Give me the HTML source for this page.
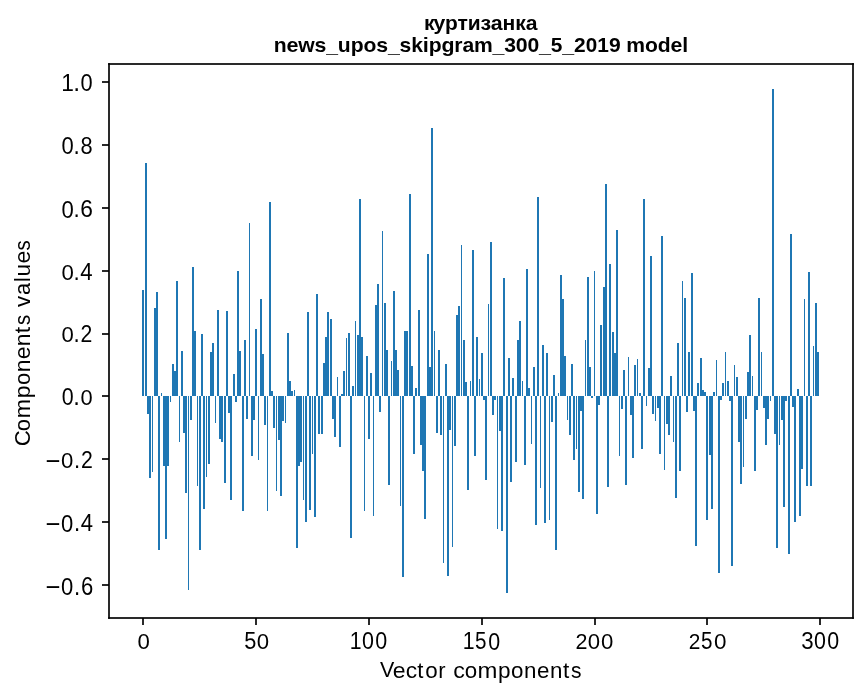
<!DOCTYPE html>
<html><head><meta charset="utf-8"><title>куртизанка — news_upos_skipgram_300_5_2019 model</title><style>
html,body{margin:0;padding:0;background:#fff;overflow:hidden;}
svg{display:block;}
text{font-family:"Liberation Sans",sans-serif;font-size:20.83px;fill:#000;}
</style></head><body>
<svg width="867" height="696" viewBox="0 0 867 696">
<rect x="0" y="0" width="867" height="696" fill="#fff"/>
<g fill="#1f77b4" shape-rendering="crispEdges"><rect x="142" y="290" width="2" height="106"/><rect x="145" y="163" width="2" height="233"/><rect x="147" y="396" width="2" height="18"/><rect x="149" y="396" width="2" height="82"/><rect x="152" y="396" width="1" height="76"/><rect x="154" y="308" width="2" height="88"/><rect x="156" y="292" width="2" height="104"/><rect x="158" y="396" width="2" height="154"/><rect x="161" y="393" width="1" height="3"/><rect x="163" y="396" width="2" height="70"/><rect x="165" y="396" width="2" height="143"/><rect x="167" y="396" width="2" height="70"/><rect x="170" y="396" width="1" height="6"/><rect x="172" y="364" width="2" height="32"/><rect x="174" y="371" width="2" height="25"/><rect x="176" y="281" width="2" height="115"/><rect x="179" y="396" width="1" height="46"/><rect x="181" y="351" width="2" height="45"/><rect x="183" y="396" width="2" height="37"/><rect x="185" y="396" width="2" height="97"/><rect x="188" y="396" width="1" height="194"/><rect x="190" y="396" width="2" height="24"/><rect x="192" y="267" width="2" height="129"/><rect x="194" y="331" width="2" height="65"/><rect x="197" y="396" width="1" height="90"/><rect x="199" y="396" width="2" height="154"/><rect x="201" y="334" width="2" height="62"/><rect x="203" y="396" width="2" height="113"/><rect x="206" y="396" width="1" height="81"/><rect x="208" y="396" width="2" height="68"/><rect x="210" y="352" width="2" height="44"/><rect x="212" y="343" width="2" height="53"/><rect x="215" y="396" width="1" height="27"/><rect x="217" y="310" width="2" height="86"/><rect x="219" y="396" width="2" height="43"/><rect x="221" y="396" width="2" height="46"/><rect x="224" y="396" width="2" height="87"/><rect x="226" y="311" width="2" height="85"/><rect x="228" y="396" width="2" height="17"/><rect x="230" y="396" width="2" height="104"/><rect x="233" y="374" width="2" height="22"/><rect x="235" y="396" width="2" height="6"/><rect x="237" y="271" width="2" height="125"/><rect x="239" y="351" width="2" height="45"/><rect x="242" y="396" width="2" height="115"/><rect x="244" y="340" width="2" height="56"/><rect x="246" y="396" width="2" height="23"/><rect x="249" y="223" width="1" height="173"/><rect x="251" y="396" width="2" height="60"/><rect x="253" y="396" width="2" height="24"/><rect x="255" y="329" width="2" height="67"/><rect x="258" y="396" width="1" height="64"/><rect x="260" y="299" width="2" height="97"/><rect x="262" y="354" width="2" height="42"/><rect x="264" y="396" width="2" height="29"/><rect x="267" y="396" width="1" height="115"/><rect x="269" y="202" width="2" height="194"/><rect x="271" y="391" width="2" height="5"/><rect x="273" y="396" width="2" height="32"/><rect x="276" y="396" width="1" height="95"/><rect x="278" y="396" width="2" height="44"/><rect x="280" y="396" width="2" height="100"/><rect x="282" y="396" width="2" height="25"/><rect x="285" y="396" width="1" height="27"/><rect x="287" y="333" width="2" height="63"/><rect x="289" y="381" width="2" height="15"/><rect x="291" y="391" width="2" height="5"/><rect x="294" y="390" width="1" height="6"/><rect x="296" y="396" width="2" height="152"/><rect x="298" y="396" width="2" height="70"/><rect x="300" y="396" width="2" height="66"/><rect x="303" y="396" width="1" height="104"/><rect x="305" y="396" width="2" height="126"/><rect x="307" y="312" width="2" height="84"/><rect x="309" y="396" width="2" height="114"/><rect x="312" y="396" width="1" height="58"/><rect x="314" y="396" width="2" height="121"/><rect x="316" y="294" width="2" height="102"/><rect x="318" y="396" width="2" height="38"/><rect x="321" y="396" width="2" height="38"/><rect x="323" y="363" width="2" height="33"/><rect x="325" y="337" width="2" height="59"/><rect x="327" y="312" width="2" height="84"/><rect x="330" y="319" width="2" height="77"/><rect x="332" y="396" width="2" height="23"/><rect x="334" y="396" width="2" height="41"/><rect x="337" y="377" width="1" height="19"/><rect x="339" y="396" width="2" height="51"/><rect x="341" y="394" width="2" height="2"/><rect x="343" y="371" width="2" height="25"/><rect x="346" y="338" width="1" height="58"/><rect x="348" y="333" width="2" height="63"/><rect x="350" y="396" width="2" height="142"/><rect x="352" y="386" width="2" height="10"/><rect x="355" y="321" width="1" height="75"/><rect x="357" y="335" width="2" height="61"/><rect x="359" y="199" width="2" height="197"/><rect x="361" y="337" width="2" height="59"/><rect x="364" y="396" width="1" height="115"/><rect x="366" y="356" width="2" height="40"/><rect x="368" y="396" width="2" height="43"/><rect x="370" y="373" width="2" height="23"/><rect x="373" y="396" width="1" height="120"/><rect x="375" y="305" width="2" height="91"/><rect x="377" y="284" width="2" height="112"/><rect x="379" y="396" width="2" height="16"/><rect x="382" y="231" width="1" height="165"/><rect x="384" y="303" width="2" height="93"/><rect x="386" y="350" width="2" height="46"/><rect x="388" y="396" width="2" height="89"/><rect x="391" y="361" width="1" height="35"/><rect x="393" y="291" width="2" height="105"/><rect x="395" y="350" width="2" height="46"/><rect x="397" y="370" width="2" height="26"/><rect x="400" y="396" width="1" height="110"/><rect x="402" y="396" width="2" height="181"/><rect x="404" y="331" width="4" height="65"/><rect x="409" y="194" width="2" height="202"/><rect x="411" y="366" width="2" height="30"/><rect x="413" y="396" width="2" height="58"/><rect x="415" y="388" width="2" height="8"/><rect x="418" y="310" width="2" height="86"/><rect x="420" y="396" width="2" height="49"/><rect x="422" y="396" width="2" height="75"/><rect x="424" y="396" width="2" height="123"/><rect x="427" y="254" width="2" height="142"/><rect x="429" y="367" width="2" height="29"/><rect x="431" y="128" width="2" height="268"/><rect x="434" y="331" width="1" height="65"/><rect x="436" y="396" width="2" height="37"/><rect x="438" y="350" width="2" height="46"/><rect x="440" y="396" width="2" height="39"/><rect x="443" y="396" width="1" height="167"/><rect x="445" y="364" width="2" height="32"/><rect x="447" y="396" width="2" height="180"/><rect x="449" y="396" width="2" height="34"/><rect x="452" y="396" width="1" height="151"/><rect x="454" y="396" width="2" height="50"/><rect x="456" y="315" width="2" height="81"/><rect x="458" y="306" width="2" height="90"/><rect x="461" y="245" width="1" height="151"/><rect x="463" y="340" width="2" height="56"/><rect x="465" y="382" width="2" height="14"/><rect x="467" y="396" width="2" height="94"/><rect x="470" y="381" width="1" height="15"/><rect x="472" y="250" width="2" height="146"/><rect x="474" y="396" width="2" height="60"/><rect x="476" y="337" width="2" height="59"/><rect x="479" y="379" width="1" height="17"/><rect x="481" y="353" width="2" height="43"/><rect x="483" y="396" width="2" height="4"/><rect x="485" y="396" width="2" height="84"/><rect x="488" y="304" width="1" height="92"/><rect x="490" y="242" width="2" height="154"/><rect x="492" y="396" width="2" height="19"/><rect x="494" y="396" width="2" height="4"/><rect x="497" y="396" width="1" height="133"/><rect x="499" y="396" width="2" height="35"/><rect x="501" y="396" width="2" height="135"/><rect x="503" y="278" width="2" height="118"/><rect x="506" y="396" width="2" height="197"/><rect x="508" y="358" width="2" height="38"/><rect x="510" y="396" width="2" height="86"/><rect x="512" y="378" width="2" height="18"/><rect x="515" y="396" width="2" height="66"/><rect x="517" y="340" width="2" height="56"/><rect x="519" y="321" width="2" height="75"/><rect x="522" y="381" width="1" height="15"/><rect x="524" y="396" width="2" height="69"/><rect x="526" y="269" width="2" height="127"/><rect x="528" y="388" width="2" height="8"/><rect x="531" y="396" width="1" height="48"/><rect x="533" y="367" width="2" height="29"/><rect x="535" y="396" width="2" height="129"/><rect x="537" y="197" width="2" height="199"/><rect x="540" y="396" width="1" height="92"/><rect x="542" y="345" width="2" height="51"/><rect x="544" y="396" width="2" height="127"/><rect x="546" y="353" width="2" height="43"/><rect x="549" y="396" width="1" height="124"/><rect x="551" y="396" width="2" height="26"/><rect x="553" y="375" width="2" height="21"/><rect x="555" y="396" width="2" height="154"/><rect x="558" y="393" width="1" height="3"/><rect x="560" y="275" width="2" height="121"/><rect x="562" y="299" width="2" height="97"/><rect x="564" y="356" width="2" height="40"/><rect x="567" y="396" width="1" height="24"/><rect x="569" y="396" width="2" height="39"/><rect x="571" y="364" width="2" height="32"/><rect x="573" y="396" width="2" height="64"/><rect x="576" y="396" width="1" height="53"/><rect x="578" y="396" width="2" height="96"/><rect x="580" y="396" width="2" height="15"/><rect x="582" y="396" width="2" height="103"/><rect x="585" y="340" width="1" height="56"/><rect x="587" y="277" width="2" height="119"/><rect x="589" y="367" width="2" height="29"/><rect x="591" y="396" width="2" height="2"/><rect x="594" y="271" width="1" height="125"/><rect x="596" y="396" width="2" height="118"/><rect x="598" y="396" width="2" height="9"/><rect x="600" y="325" width="2" height="71"/><rect x="603" y="287" width="2" height="109"/><rect x="605" y="184" width="2" height="212"/><rect x="607" y="396" width="2" height="91"/><rect x="609" y="264" width="2" height="132"/><rect x="612" y="332" width="2" height="64"/><rect x="614" y="353" width="2" height="43"/><rect x="616" y="230" width="2" height="166"/><rect x="619" y="396" width="1" height="60"/><rect x="621" y="396" width="2" height="13"/><rect x="623" y="370" width="2" height="26"/><rect x="625" y="396" width="2" height="89"/><rect x="628" y="357" width="1" height="39"/><rect x="630" y="396" width="2" height="19"/><rect x="632" y="396" width="2" height="62"/><rect x="634" y="365" width="2" height="31"/><rect x="637" y="359" width="1" height="37"/><rect x="639" y="393" width="2" height="3"/><rect x="641" y="396" width="2" height="53"/><rect x="643" y="199" width="2" height="197"/><rect x="646" y="396" width="1" height="10"/><rect x="648" y="368" width="2" height="28"/><rect x="650" y="256" width="2" height="140"/><rect x="652" y="396" width="2" height="18"/><rect x="655" y="396" width="1" height="25"/><rect x="657" y="396" width="2" height="12"/><rect x="659" y="396" width="2" height="58"/><rect x="661" y="236" width="2" height="160"/><rect x="664" y="396" width="1" height="74"/><rect x="666" y="396" width="2" height="28"/><rect x="668" y="396" width="2" height="39"/><rect x="670" y="376" width="2" height="20"/><rect x="673" y="396" width="1" height="46"/><rect x="675" y="396" width="2" height="102"/><rect x="677" y="343" width="2" height="53"/><rect x="679" y="396" width="2" height="75"/><rect x="682" y="281" width="1" height="115"/><rect x="684" y="298" width="2" height="98"/><rect x="686" y="396" width="2" height="16"/><rect x="688" y="352" width="2" height="44"/><rect x="691" y="273" width="2" height="123"/><rect x="693" y="396" width="2" height="15"/><rect x="695" y="396" width="2" height="150"/><rect x="697" y="383" width="2" height="13"/><rect x="700" y="358" width="2" height="38"/><rect x="702" y="390" width="2" height="6"/><rect x="704" y="392" width="2" height="4"/><rect x="706" y="396" width="2" height="124"/><rect x="709" y="396" width="2" height="59"/><rect x="711" y="396" width="2" height="113"/><rect x="713" y="392" width="2" height="4"/><rect x="716" y="360" width="1" height="36"/><rect x="718" y="396" width="2" height="177"/><rect x="720" y="396" width="2" height="4"/><rect x="722" y="383" width="2" height="13"/><rect x="725" y="352" width="1" height="44"/><rect x="727" y="381" width="2" height="15"/><rect x="729" y="396" width="2" height="5"/><rect x="731" y="396" width="2" height="170"/><rect x="734" y="365" width="1" height="31"/><rect x="736" y="377" width="2" height="19"/><rect x="738" y="396" width="2" height="46"/><rect x="740" y="396" width="2" height="88"/><rect x="743" y="396" width="1" height="71"/><rect x="745" y="396" width="2" height="23"/><rect x="747" y="372" width="2" height="24"/><rect x="749" y="335" width="2" height="61"/><rect x="752" y="376" width="1" height="20"/><rect x="754" y="396" width="2" height="75"/><rect x="756" y="396" width="2" height="14"/><rect x="758" y="298" width="2" height="98"/><rect x="761" y="352" width="1" height="44"/><rect x="763" y="396" width="2" height="12"/><rect x="765" y="396" width="2" height="49"/><rect x="767" y="396" width="2" height="23"/><rect x="770" y="396" width="1" height="5"/><rect x="772" y="89" width="2" height="307"/><rect x="774" y="396" width="2" height="38"/><rect x="776" y="396" width="2" height="152"/><rect x="779" y="396" width="1" height="49"/><rect x="781" y="396" width="2" height="24"/><rect x="783" y="396" width="2" height="111"/><rect x="785" y="396" width="2" height="5"/><rect x="788" y="396" width="2" height="158"/><rect x="790" y="234" width="2" height="162"/><rect x="792" y="396" width="2" height="11"/><rect x="794" y="396" width="2" height="126"/><rect x="797" y="389" width="2" height="7"/><rect x="799" y="396" width="2" height="120"/><rect x="801" y="396" width="2" height="73"/><rect x="804" y="299" width="1" height="97"/><rect x="806" y="396" width="2" height="90"/><rect x="808" y="272" width="2" height="124"/><rect x="810" y="396" width="2" height="90"/><rect x="813" y="346" width="1" height="50"/><rect x="815" y="303" width="2" height="93"/><rect x="817" y="352" width="2" height="44"/></g>
<g fill="#000" fill-opacity="0.8353" shape-rendering="crispEdges"><rect x="108" y="65" width="2" height="552"/><rect x="852" y="65" width="2" height="552"/><rect x="108" y="63" width="746" height="2"/><rect x="108" y="617" width="746" height="2"/><rect x="102" y="81" width="7" height="2"/><rect x="102" y="144" width="7" height="2"/><rect x="102" y="207" width="7" height="2"/><rect x="102" y="270" width="7" height="2"/><rect x="102" y="333" width="7" height="2"/><rect x="102" y="395" width="7" height="2"/><rect x="102" y="458" width="7" height="2"/><rect x="102" y="521" width="7" height="2"/><rect x="102" y="584" width="7" height="2"/><rect x="142" y="618" width="2" height="7"/><rect x="255" y="618" width="2" height="7"/><rect x="368" y="618" width="2" height="7"/><rect x="481" y="618" width="2" height="7"/><rect x="594" y="618" width="2" height="7"/><rect x="706" y="618" width="2" height="7"/><rect x="819" y="618" width="2" height="7"/></g>
<g shape-rendering="crispEdges"><rect x="108" y="63" width="1" height="1" fill="rgb(23,23,23)"/><rect x="109" y="63" width="1" height="1" fill="rgb(12,12,12)"/><rect x="108" y="64" width="1" height="1" fill="rgb(12,12,12)"/><rect x="109" y="64" width="1" height="1" fill="rgb(7,7,7)"/><rect x="852" y="63" width="1" height="1" fill="rgb(12,12,12)"/><rect x="853" y="63" width="1" height="1" fill="rgb(23,23,23)"/><rect x="852" y="64" width="1" height="1" fill="rgb(7,7,7)"/><rect x="853" y="64" width="1" height="1" fill="rgb(12,12,12)"/><rect x="108" y="617" width="1" height="1" fill="rgb(12,12,12)"/><rect x="109" y="617" width="1" height="1" fill="rgb(7,7,7)"/><rect x="108" y="618" width="1" height="1" fill="rgb(23,23,23)"/><rect x="109" y="618" width="1" height="1" fill="rgb(12,12,12)"/><rect x="852" y="617" width="1" height="1" fill="rgb(7,7,7)"/><rect x="853" y="617" width="1" height="1" fill="rgb(12,12,12)"/><rect x="852" y="618" width="1" height="1" fill="rgb(12,12,12)"/><rect x="853" y="618" width="1" height="1" fill="rgb(23,23,23)"/></g>
<g style="opacity:0.999">
<rect x="46.75" y="460.15" width="12.45" height="1.85"/><rect x="46.75" y="523.15" width="12.45" height="1.85"/><rect x="46.75" y="586.15" width="12.45" height="1.85"/>
<text transform="translate(67.77,90.70) scale(1.0914,1.1770)" x="-6.08">1</text><text transform="translate(76.76,90.70) scale(1.1787,1.2237)" x="-2.89">.</text><text transform="translate(86.46,90.70) scale(1.0477,1.1887)" x="-5.79">0</text>
<text transform="translate(67.50,153.96) scale(1.0567,1.1776)" x="-5.79">0</text><text transform="translate(76.68,153.96) scale(1.0778,1.2122)" x="-2.89">.</text><text transform="translate(86.62,153.96) scale(1.0461,1.1199)" x="-5.79">8</text>
<text transform="translate(67.75,217.64) scale(1.0618,1.1739)" x="-5.79">0</text><text transform="translate(76.68,217.14) scale(1.0724,1.1288)" x="-2.89">.</text><text transform="translate(86.70,217.14) scale(1.0937,1.1400)" x="-5.86">6</text>
<text transform="translate(67.75,279.76) scale(1.0645,1.1005)" x="-5.79">0</text><text transform="translate(76.68,279.76) scale(1.0751,1.1692)" x="-2.89">.</text><text transform="translate(86.30,279.76) scale(1.0645,1.1463)" x="-5.73">4</text>
<text transform="translate(67.75,342.07) scale(1.0614,1.1022)" x="-5.79">0</text><text transform="translate(76.68,342.07) scale(1.0720,1.2440)" x="-2.89">.</text><text transform="translate(86.35,342.07) scale(1.0189,1.1567)" x="-5.79">2</text>
<text transform="translate(67.81,404.74) scale(1.0295,1.1599)" x="-5.79">0</text><text transform="translate(76.62,404.74) scale(1.1379,1.2546)" x="-2.89">.</text><text transform="translate(86.56,404.74) scale(1.0512,1.1007)" x="-5.79">0</text>
<text transform="translate(67.25,468.07) scale(1.0639,1.1013)" x="-5.79">0</text><text transform="translate(77.18,468.07) scale(1.0639,1.1453)" x="-2.89">.</text><text transform="translate(86.85,468.07) scale(1.0213,1.1563)" x="-5.79">2</text>
<text transform="translate(67.00,531.76) scale(1.0579,1.1246)" x="-5.79">0</text><text transform="translate(77.18,531.26) scale(1.0689,1.2785)" x="-2.89">.</text><text transform="translate(86.80,531.26) scale(1.0579,1.1720)" x="-5.73">4</text>
<text transform="translate(67.25,595.14) scale(1.0593,1.1538)" x="-5.79">0</text><text transform="translate(77.18,595.14) scale(1.0699,1.1999)" x="-2.89">.</text><text transform="translate(87.20,595.14) scale(1.0593,1.2345)" x="-5.86">6</text>
<text transform="translate(143.75,648.81) scale(1.0656,1.0967)" x="-5.79">0</text>
<text transform="translate(250.16,649.36) scale(1.0451,1.1845)" x="-5.77">5</text><text transform="translate(263.02,649.36) scale(1.0664,1.0661)" x="-5.79">0</text>
<text transform="translate(356.02,648.56) scale(1.0203,1.1330)" x="-6.08">1</text><text transform="translate(368.08,648.56) scale(1.0311,1.1673)" x="-5.79">0</text><text transform="translate(381.33,648.56) scale(1.0311,1.1444)" x="-5.79">0</text>
<text transform="translate(468.90,649.07) scale(1.0201,1.1789)" x="-6.08">1</text><text transform="translate(480.61,649.07) scale(0.9904,1.1206)" x="-5.77">5</text><text transform="translate(494.21,649.57) scale(1.0300,1.1672)" x="-5.79">0</text>
<text transform="translate(581.57,648.90) scale(1.0333,1.0747)" x="-5.79">2</text><text transform="translate(593.85,648.90) scale(1.0656,1.0421)" x="-5.79">0</text><text transform="translate(607.10,648.90) scale(1.0656,1.0421)" x="-5.79">0</text>
<text transform="translate(694.57,649.36) scale(1.0027,1.0684)" x="-5.79">2</text><text transform="translate(706.74,649.36) scale(0.9920,1.1095)" x="-5.77">5</text><text transform="translate(720.35,649.36) scale(1.0782,1.0273)" x="-5.79">0</text>
<text transform="translate(807.25,648.95) scale(1.0710,1.1309)" x="-5.73">3</text><text transform="translate(820.04,648.95) scale(1.0282,1.1540)" x="-5.79">0</text><text transform="translate(833.29,648.95) scale(1.0282,1.1540)" x="-5.79">0</text>
<text transform="translate(387.27,677.21) scale(1.0303,1.0275)" x="-6.95">V</text><text transform="translate(399.20,677.71) scale(1.1054,1.0703)" x="-5.77">e</text><text transform="translate(411.56,677.71) scale(1.0947,1.1025)" x="-5.38">c</text><text transform="translate(420.51,677.71) scale(1.0625,1.0489)" x="-2.97">t</text><text transform="translate(431.40,677.71) scale(1.0732,1.0703)" x="-5.79">o</text><text transform="translate(442.50,677.71) scale(1.0518,1.0703)" x="-3.99">r</text><text transform="translate(459.18,677.71) scale(1.1161,1.0703)" x="-5.38">c</text><text transform="translate(470.90,677.71) scale(1.0732,1.0703)" x="-5.79">o</text><text transform="translate(487.48,677.71) scale(1.1483,1.0596)" x="-8.68">m</text><text transform="translate(504.51,677.71) scale(1.0839,1.0703)" x="-6.03">p</text><text transform="translate(517.15,677.71) scale(1.0732,1.0703)" x="-5.79">o</text><text transform="translate(530.19,677.71) scale(1.0732,1.0703)" x="-5.81">n</text><text transform="translate(543.08,677.71) scale(1.0732,1.0596)" x="-5.77">e</text><text transform="translate(556.19,677.71) scale(1.0732,1.0703)" x="-5.81">n</text><text transform="translate(566.26,677.71) scale(1.0839,1.0489)" x="-2.97">t</text><text transform="translate(576.26,677.71) scale(1.0088,1.0489)" x="-5.12">s</text>
<text transform="translate(29.59,438.19) rotate(-90) scale(1.0653,1.0956)" x="-7.65">C</text><text transform="translate(30.09,425.10) rotate(-90) scale(1.0542,1.0956)" x="-5.79">o</text><text transform="translate(30.09,408.52) rotate(-90) scale(1.1096,1.0846)" x="-8.68">m</text><text transform="translate(30.09,391.49) rotate(-90) scale(1.1096,1.0517)" x="-6.03">p</text><text transform="translate(30.09,378.85) rotate(-90) scale(1.0542,1.0408)" x="-5.79">o</text><text transform="translate(30.09,365.82) rotate(-90) scale(1.0986,1.0956)" x="-5.81">n</text><text transform="translate(30.09,352.93) rotate(-90) scale(1.1096,1.0517)" x="-5.77">e</text><text transform="translate(30.09,339.82) rotate(-90) scale(1.0986,1.0956)" x="-5.81">n</text><text transform="translate(30.09,329.99) rotate(-90) scale(1.1207,1.0846)" x="-2.97">t</text><text transform="translate(30.09,320.00) rotate(-90) scale(0.9765,1.0627)" x="-5.12">s</text><text transform="translate(30.09,301.57) rotate(-90) scale(1.0653,1.0846)" x="-5.21">v</text><text transform="translate(30.09,288.54) rotate(-90) scale(1.0431,1.0736)" x="-6.23">a</text><text transform="translate(30.09,279.71) rotate(-90) scale(1.0098,1.0846)" x="-2.32">l</text><text transform="translate(30.09,270.19) rotate(-90) scale(1.0875,1.0736)" x="-5.78">u</text><text transform="translate(30.09,257.18) rotate(-90) scale(1.1096,1.0517)" x="-5.77">e</text><text transform="translate(30.09,245.50) rotate(-90) scale(0.9765,1.0627)" x="-5.12">s</text>
<text transform="translate(430.00,30.06) scale(1.0166,1.0036)" x="-5.94" font-weight="bold">к</text><text transform="translate(439.37,30.06) scale(1.0166,0.9841)" x="-5.82" font-weight="bold">у</text><text transform="translate(451.55,30.06) scale(1.0066,0.9939)" x="-6.62" font-weight="bold">р</text><text transform="translate(462.66,30.06) scale(1.0166,0.9744)" x="-5.11" font-weight="bold">т</text><text transform="translate(474.21,30.06) scale(1.0066,1.0036)" x="-6.40" font-weight="bold">и</text><text transform="translate(485.78,30.06) scale(1.0267,1.0036)" x="-5.10" font-weight="bold">з</text><text transform="translate(497.10,30.06) scale(1.0267,0.9744)" x="-6.16" font-weight="bold">а</text><text transform="translate(508.85,30.06) scale(1.0166,0.9549)" x="-6.29" font-weight="bold">н</text><text transform="translate(521.25,30.06) scale(1.0166,0.9744)" x="-5.94" font-weight="bold">к</text><text transform="translate(531.97,30.06) scale(1.0166,0.9744)" x="-6.16" font-weight="bold">а</text>
<text transform="translate(280.22,52.24) scale(1.0142,0.9856)" x="-6.40" font-weight="bold">n</text><text transform="translate(292.53,52.24) scale(1.0345,0.9567)" x="-5.84" font-weight="bold">e</text><text transform="translate(306.53,52.12) scale(1.0142,1.0146)" x="-8.09" font-weight="bold">w</text><text transform="translate(320.30,52.49) scale(1.0243,0.9663)" x="-5.73" font-weight="bold">s</text><text transform="translate(332.10,52.24) scale(1.0142,0.9760)" x="-5.78" font-weight="bold">_</text><text transform="translate(344.26,52.24) scale(1.0142,0.9760)" x="-6.32" font-weight="bold">u</text><text transform="translate(357.56,52.24) scale(1.0142,1.0050)" x="-6.62" font-weight="bold">p</text><text transform="translate(369.93,52.24) scale(1.0142,0.9953)" x="-6.36" font-weight="bold">o</text><text transform="translate(382.17,52.24) scale(1.0243,0.9663)" x="-5.73" font-weight="bold">s</text><text transform="translate(393.85,52.24) scale(1.0243,0.9760)" x="-5.78" font-weight="bold">_</text><text transform="translate(405.42,52.24) scale(1.0142,0.9663)" x="-5.73" font-weight="bold">s</text><text transform="translate(417.84,52.24) scale(1.0142,0.9856)" x="-6.53" font-weight="bold">k</text><text transform="translate(425.82,52.24) scale(1.0446,0.9953)" x="-2.88" font-weight="bold">i</text><text transform="translate(435.44,52.24) scale(1.0142,1.0050)" x="-6.62" font-weight="bold">p</text><text transform="translate(447.78,52.24) scale(1.0243,0.9663)" x="-6.09" font-weight="bold">g</text><text transform="translate(458.77,52.24) scale(1.0142,0.9663)" x="-4.58" font-weight="bold">r</text><text transform="translate(468.73,52.24) scale(1.0142,1.0050)" x="-6.16" font-weight="bold">a</text><text transform="translate(483.49,52.24) scale(1.0142,0.9470)" x="-9.30" font-weight="bold">m</text><text transform="translate(498.47,52.24) scale(1.0243,0.9856)" x="-5.78" font-weight="bold">_</text><text transform="translate(509.97,52.24) scale(1.0142,0.9277)" x="-5.66" font-weight="bold">3</text><text transform="translate(521.72,52.24) scale(1.0243,0.9663)" x="-5.78" font-weight="bold">0</text><text transform="translate(533.34,52.24) scale(1.0142,0.9663)" x="-5.78" font-weight="bold">0</text><text transform="translate(544.97,52.24) scale(1.0345,0.9277)" x="-5.78" font-weight="bold">_</text><text transform="translate(556.64,52.24) scale(1.0040,0.9470)" x="-5.82" font-weight="bold">5</text><text transform="translate(568.22,52.24) scale(1.0243,0.9953)" x="-5.78" font-weight="bold">_</text><text transform="translate(579.80,52.24) scale(1.0040,0.9277)" x="-5.74" font-weight="bold">2</text><text transform="translate(591.47,52.24) scale(0.9939,0.9953)" x="-5.78" font-weight="bold">0</text><text transform="translate(603.47,52.24) scale(1.0040,0.9277)" x="-6.16" font-weight="bold">1</text><text transform="translate(614.83,52.24) scale(1.0142,0.9760)" x="-5.77" font-weight="bold">9</text><text transform="translate(635.74,52.24) scale(1.0142,0.9470)" x="-9.30" font-weight="bold">m</text><text transform="translate(651.55,52.24) scale(1.0142,0.9470)" x="-6.36" font-weight="bold">o</text><text transform="translate(663.92,52.24) scale(1.0142,0.9567)" x="-6.10" font-weight="bold">d</text><text transform="translate(676.41,52.24) scale(1.0243,0.9856)" x="-5.84" font-weight="bold">e</text><text transform="translate(685.20,52.24) scale(1.0243,0.9760)" x="-2.88" font-weight="bold">l</text>
</g>
</svg>
</body></html>
